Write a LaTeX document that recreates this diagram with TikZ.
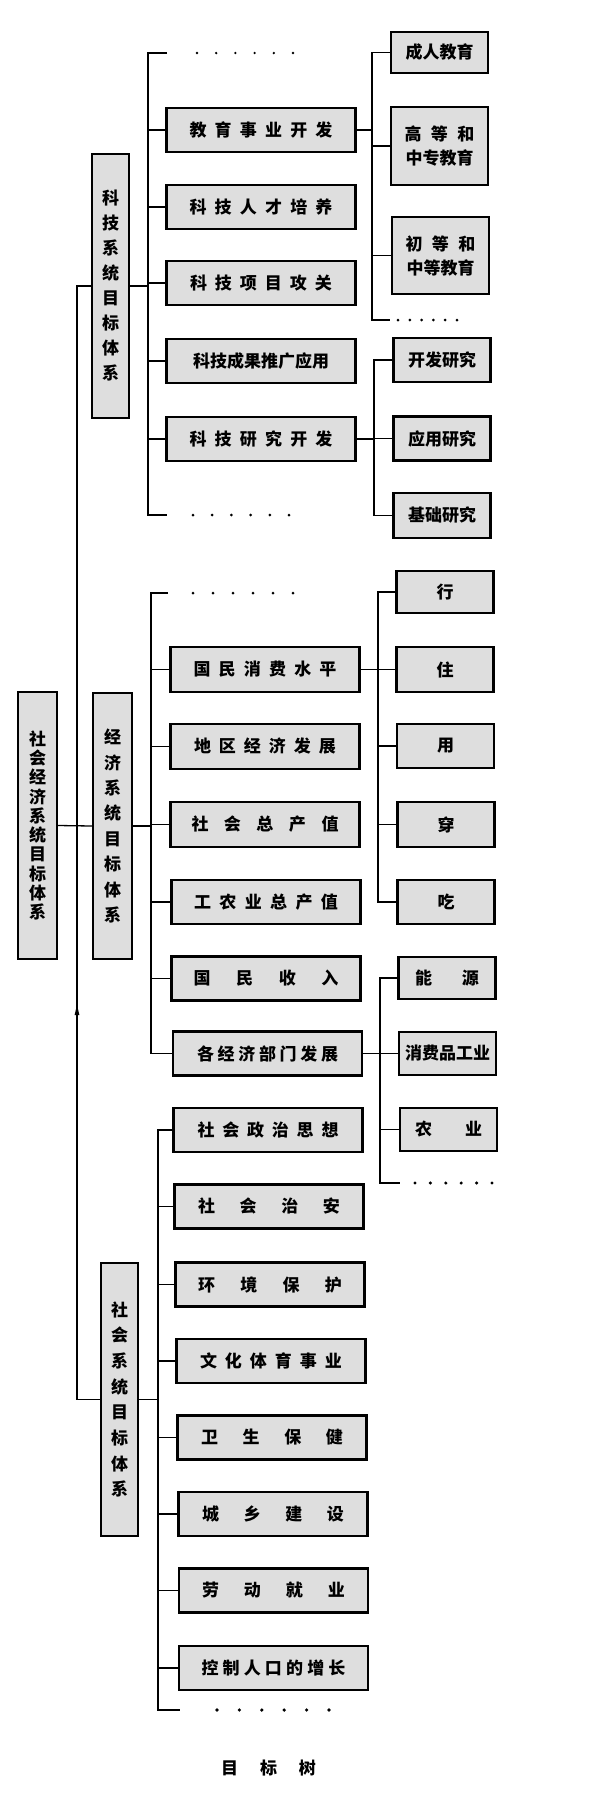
\documentclass[tikz,border=0pt]{standalone}
\usepackage{fontspec}
\newfontfamily\cjk{Noto Sans CJK SC}
\definecolor{boxgray}{RGB}{222,222,222}
\newcommand\spr[2]{\makebox[#1pt][s]{#2}}
\begin{document}
\begin{tikzpicture}[x=1pt,y=-1pt,
 box/.style={draw, line width=2.4pt, fill=boxgray, inner sep=0pt, font=\cjk\bfseries\fontsize{17}{20}\selectfont},
 midbox/.style={box, minimum width=189pt, minimum height=44pt},
 rbox/.style={box, minimum width=97pt, minimum height=43pt},
 twoline/.style={align=center, font=\cjk\bfseries\fontsize{17}{24}\selectfont},
 vbox/.style={box, align=center, font=\cjk\bfseries\fontsize{17}{#1}\selectfont},
 conn/.style={line width=1.3pt},
 tiptri/.style={fill=black}
]
\useasboundingbox (0,0) rectangle (600,1805);

% ---------------- technology system ----------------
\node[vbox=25, minimum width=37pt, minimum height=264pt] (tech) at (110.5,286) {科\\技\\系\\统\\目\\标\\体\\系};
\node[midbox] (t1) at (261,130) {\spr{143}{教\hfill 育\hfill 事\hfill 业\hfill 开\hfill 发}};
\node[midbox] (t2) at (261,207) {\spr{143}{科\hfill 技\hfill 人\hfill 才\hfill 培\hfill 养}};
\node[midbox] (t3) at (261,283) {\spr{142}{科\hfill 技\hfill 项\hfill 目\hfill 攻\hfill 关}};
\node[midbox] (t4) at (261,361) {\spr{136}{科\hfill 技\hfill 成\hfill 果\hfill 推\hfill 广\hfill 应\hfill 用}};
\node[midbox] (t5) at (261,439) {\spr{143}{科\hfill 技\hfill 研\hfill 究\hfill 开\hfill 发}};
\coordinate (tTop) at (167,53);
\coordinate (tBot) at (167,515);
\coordinate (tbus) at (148,0);
\draw[conn] (tTop) -- (tTop -| tbus) -- (tBot -| tbus) -- (tBot);
\foreach \n in {t1,t2,t3,t4,t5} \draw[conn] (\n.west) -- (\n.west -| tbus);
\draw[conn] (tech.east) -- (tech.east -| tbus);
\foreach \i in {0,...,5} \fill (197+\i*19.2,53) circle (1.3);
\foreach \i in {0,...,5} \fill (193+\i*19.2,515) circle (1.5);

% right: education
\node[rbox, minimum height=41pt] (ra1) at (439.5,52.5) {成人教育};
\node[rbox, minimum height=78pt, twoline] (ra2) at (439.5,146) {\spr{70}{高\hfill 等\hfill 和}\\中专教育};
\node[rbox, minimum height=77pt, twoline] (ra3) at (440.5,255.5) {\spr{70}{初\hfill 等\hfill 和}\\中等教育};
\coordinate (raBus) at (372,0);
\coordinate (raEnd) at (390,320);
\draw[conn] (ra1.west) -- (ra1.west -| raBus) -- (raEnd -| raBus) -- (raEnd);
\draw[conn] (ra2.west) -- (ra2.west -| raBus);
\draw[conn] (ra3.west) -- (ra3.west -| raBus);
\draw[conn] (t1.east) -- (t1.east -| raBus);
\foreach \i in {0,...,5} \fill (398+\i*11.8,320) circle (1.5);

% right: research
\node[rbox, minimum height=44pt] (rb1) at (442,360) {开发研究};
\node[rbox, minimum height=44pt] (rb2) at (442,438.5) {应用研究};
\node[rbox, minimum height=45pt] (rb3) at (442,515.5) {基础研究};
\coordinate (rbBus) at (374,0);
\draw[conn] (rb1.west) -- (rb1.west -| rbBus) -- (rb3.west -| rbBus) -- (rb3.west);
\draw[conn] (rb2.west) -- (rb2.west -| rbBus);
\draw[conn] (t5.east) -- (t5.east -| rbBus);

% ---------------- economic system ----------------
\node[vbox=19.3, minimum width=39pt, minimum height=267pt] (main) at (37.5,825.5) {社\\会\\经\\济\\系\\统\\目\\标\\体\\系};
\node[vbox=25.4, minimum width=39pt, minimum height=266pt] (econ) at (112.5,826) {经\\济\\系\\统\\目\\标\\体\\系};
\node[midbox, minimum height=45pt] (e1) at (265,669.5) {\spr{143}{国\hfill 民\hfill 消\hfill 费\hfill 水\hfill 平}};
\node[midbox, minimum height=45pt] (e2) at (265,746.5) {\spr{142}{地\hfill 区\hfill 经\hfill 济\hfill 发\hfill 展}};
\node[midbox, minimum height=45pt] (e3) at (265,824.5) {\spr{147}{社\hfill 会\hfill 总\hfill 产\hfill 值}};
\node[midbox] (e4) at (266,902) {\spr{144}{工\hfill 农\hfill 业\hfill 总\hfill 产\hfill 值}};
\node[midbox] (e5) at (266,978.5) {\spr{145}{国\hfill 民\hfill 收\hfill 入}};
\node[midbox] (e6) at (267.5,1053.5) {\spr{141}{各\hfill 经\hfill 济\hfill 部\hfill 门\hfill 发\hfill 展}};
\coordinate (eTop) at (168,593);
\coordinate (ebus) at (151,0);
\draw[conn] (eTop) -- (eTop -| ebus) -- (e6.west -| ebus) -- (e6.west);
\foreach \n in {e1,e2,e3,e4,e5} \draw[conn] (\n.west) -- (\n.west -| ebus);
\draw[conn] (econ.east) -- (econ.east -| ebus);
\foreach \i in {0,...,5} \fill (193+\i*20,593) circle (1.5);

% right: consumption
\node[rbox, minimum height=42pt] (ea1) at (445,592) {行};
\node[rbox, minimum height=45pt] (ea2) at (445,669.5) {住};
\node[rbox, minimum height=44pt] (ea3) at (445.5,746) {用};
\node[rbox, minimum height=45pt] (ea4) at (446,824.5) {穿};
\node[rbox, minimum height=44pt] (ea5) at (446,902) {吃};
\coordinate (eaBus) at (378,0);
\draw[conn] (ea1.west) -- (ea1.west -| eaBus) -- (ea5.west -| eaBus) -- (ea5.west);
\foreach \n in {ea2,ea3,ea4} \draw[conn] (\n.west) -- (\n.west -| eaBus);
\draw[conn] (e1.east) -- (e1.east -| eaBus);

% right: sectors
\node[rbox, minimum height=42pt] (eb1) at (447,978) {\spr{64}{能\hfill 源}};
\node[rbox, minimum height=43pt] (eb2) at (447.5,1053.5) {消费品工业};
\node[rbox, minimum height=43pt] (eb3) at (448.5,1129.5) {\spr{67}{农\hfill 业}};
\coordinate (ebBus) at (380,0);
\coordinate (ebEnd) at (400,1183);
\draw[conn] (eb1.west) -- (eb1.west -| ebBus) -- (ebEnd -| ebBus) -- (ebEnd);
\draw[conn] (eb2.west) -- (eb2.west -| ebBus);
\draw[conn] (eb3.west) -- (eb3.west -| ebBus);
\draw[conn] (e6.east) -- (e6.east -| ebBus);
\foreach \i in {0,...,5} \fill (415+\i*15.4,1183) circle (1.7);

% ---------------- social system ----------------
\node[vbox=25.7, minimum width=37pt, minimum height=273pt] (soc) at (119.5,1399.5) {社\\会\\系\\统\\目\\标\\体\\系};
\node[midbox] (s1) at (268,1130) {\spr{141}{社\hfill 会\hfill 政\hfill 治\hfill 思\hfill 想}};
\node[midbox] (s2) at (269,1206.5) {\spr{142}{社\hfill 会\hfill 治\hfill 安}};
\node[midbox] (s3) at (270,1284.5) {\spr{144}{环\hfill 境\hfill 保\hfill 护}};
\node[midbox] (s4) at (271,1361) {\spr{142}{文\hfill 化\hfill 体\hfill 育\hfill 事\hfill 业}};
\node[midbox] (s5) at (272,1437.5) {\spr{142}{卫\hfill 生\hfill 保\hfill 健}};
\node[midbox] (s6) at (273,1514) {\spr{142}{城\hfill 乡\hfill 建\hfill 设}};
\node[midbox] (s7) at (273.5,1590.5) {\spr{143}{劳\hfill 动\hfill 就\hfill 业}};
\node[midbox] (s8) at (273.5,1668) {\spr{144}{控\hfill 制\hfill 人\hfill 口\hfill 的\hfill 增\hfill 长}};
\coordinate (sbus) at (158,0);
\coordinate (sEnd) at (180,1710);
\draw[conn] (s1.west) -- (s1.west -| sbus) -- (sEnd -| sbus) -- (sEnd);
\foreach \n in {s2,s3,s4,s5,s6,s7,s8} \draw[conn] (\n.west) -- (\n.west -| sbus);
\draw[conn] (soc.east) -- (soc.east -| sbus);
\foreach \i in {0,...,5} \fill (217+\i*22.4,1710) circle (1.8);

% ---------------- trunk ----------------
\coordinate (trunk) at (77,0);
\draw[conn] (tech.west) -- (tech.west -| trunk) -- (soc.west -| trunk) -- (soc.west);
\draw[conn] (main.east) -- (econ.west);
\fill[tiptri] (77,1005) -- (74.6,1015) -- (79.4,1015) -- cycle;

% title
\node[font=\cjk\bfseries\fontsize{17}{20}\selectfont, inner sep=0pt] (title) at (268.5,1768) {\spr{95}{目\hfill 标\hfill 树}};
\end{tikzpicture}
\end{document}
